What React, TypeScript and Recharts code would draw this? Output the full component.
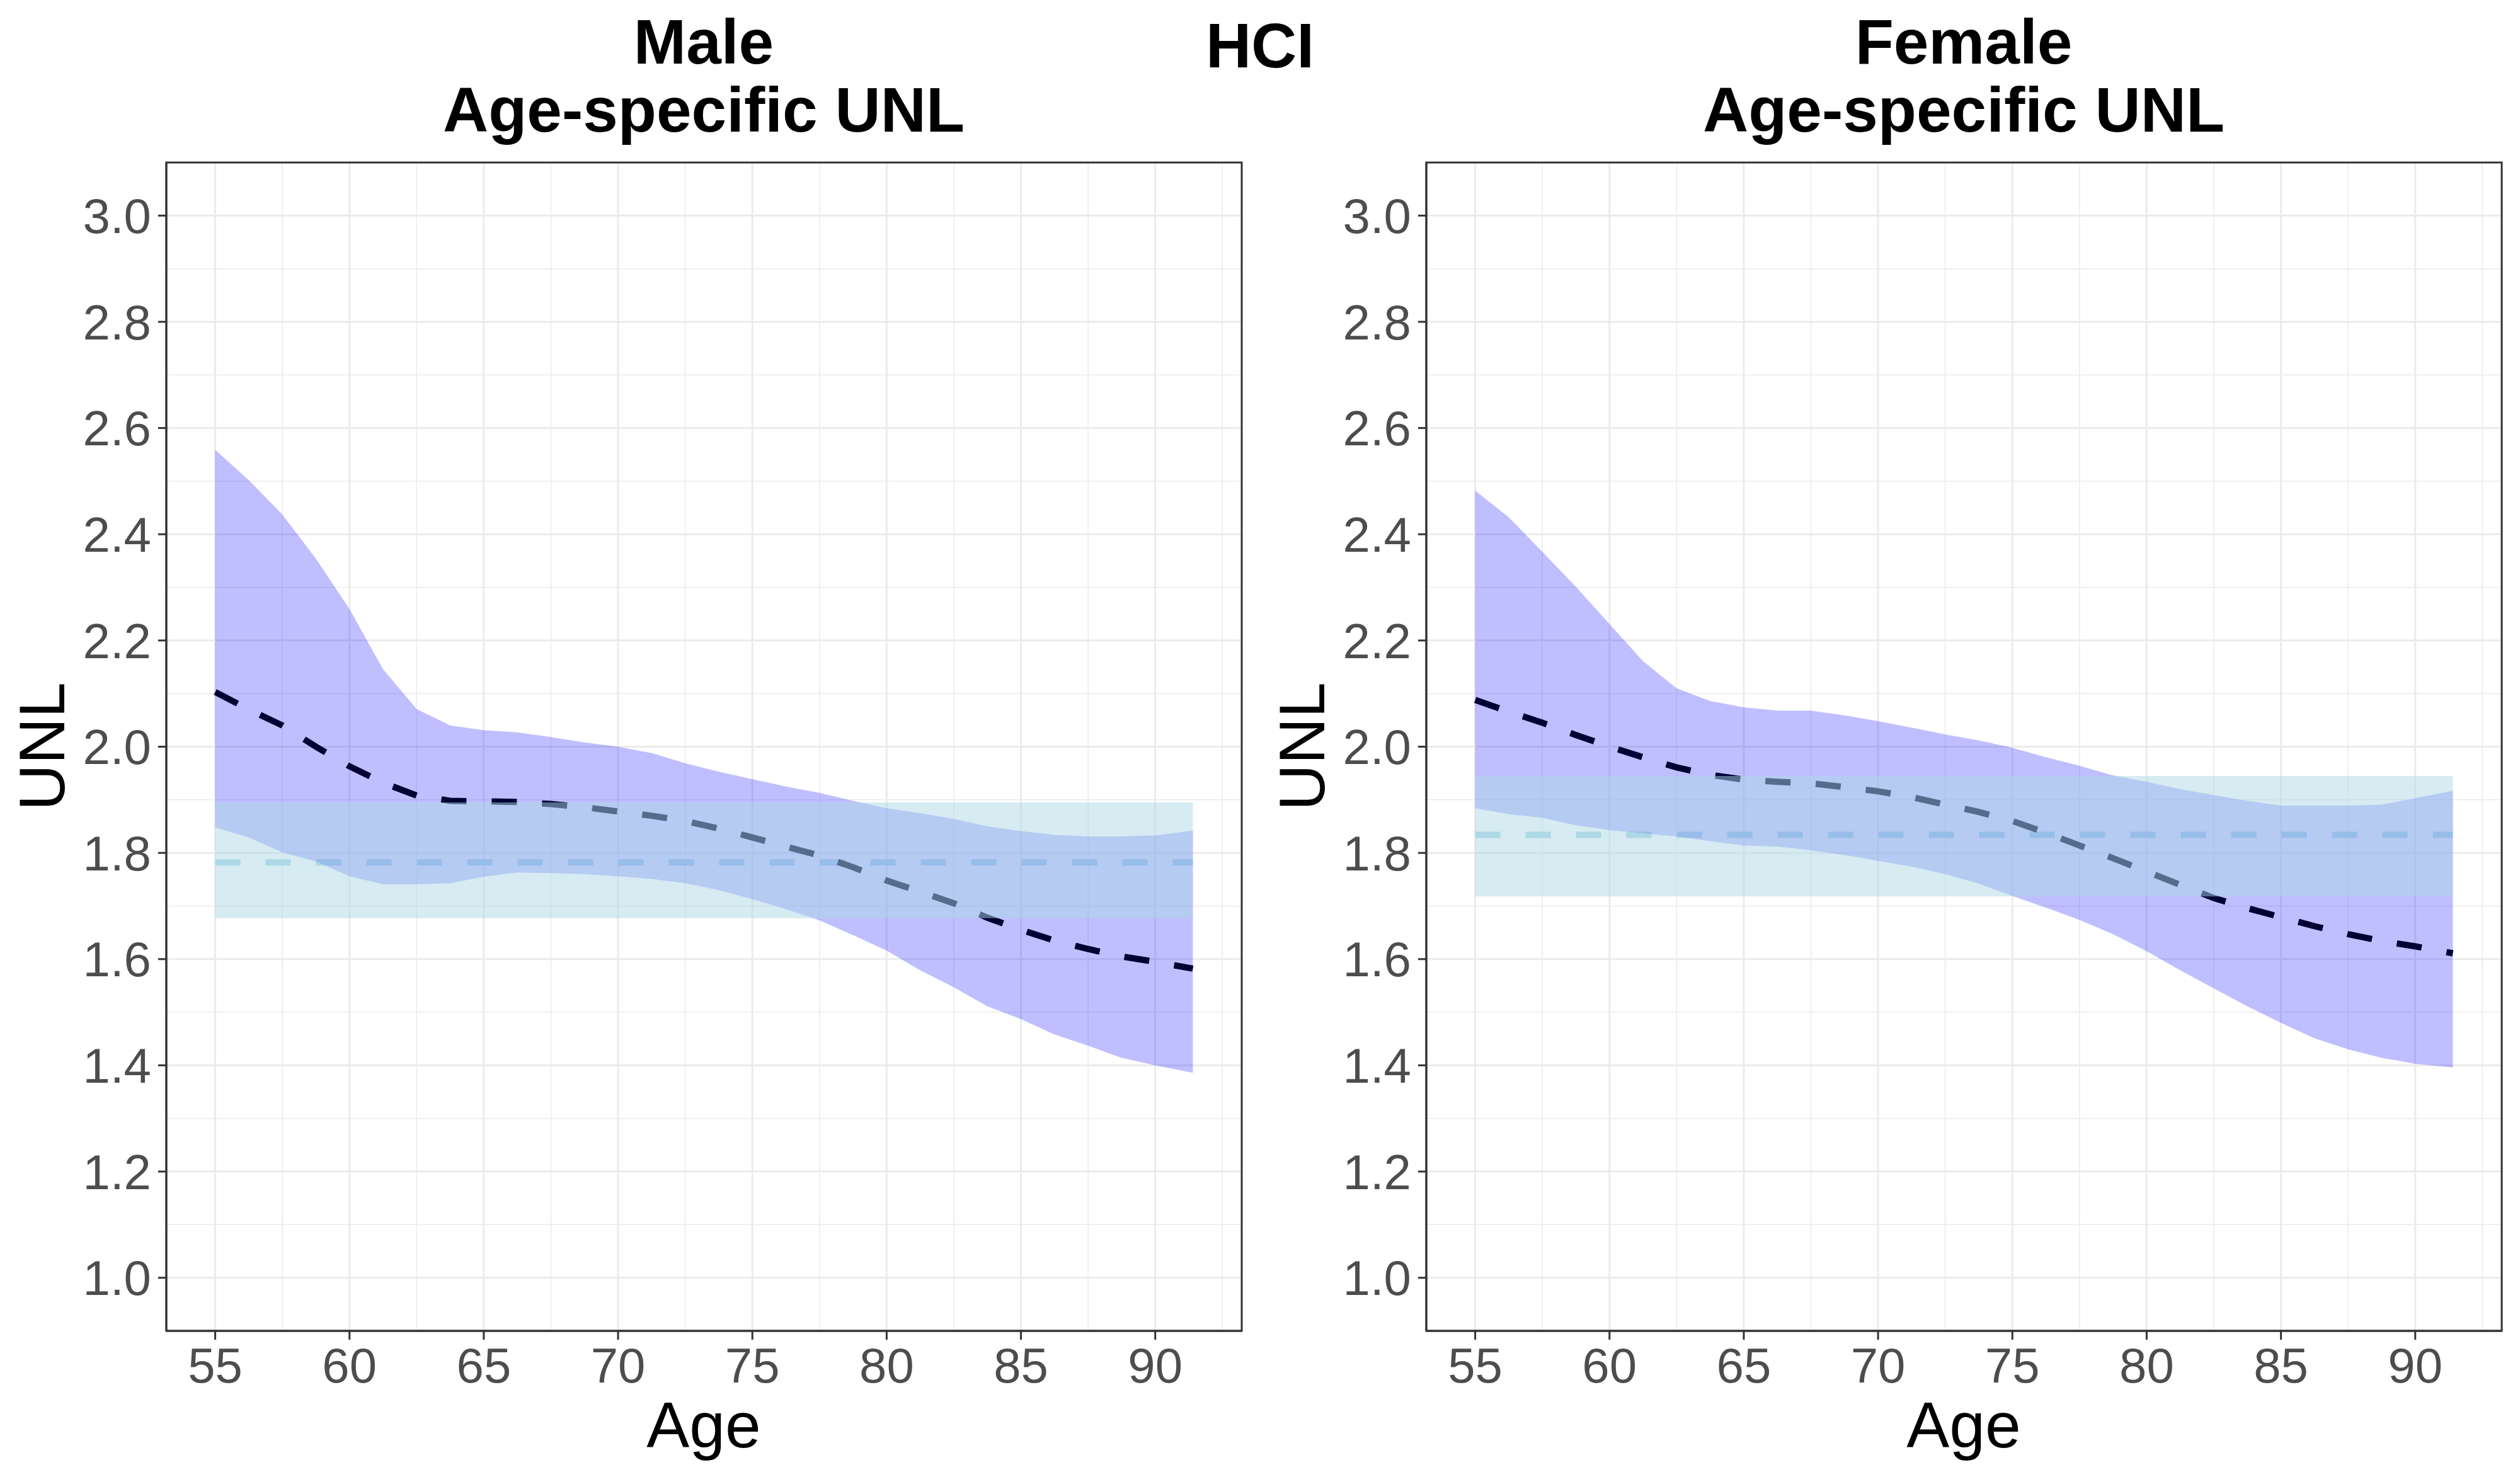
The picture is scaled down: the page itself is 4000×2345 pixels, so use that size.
import React from "react"
import { Area, CartesianGrid, ComposedChart, Line, ReferenceArea, XAxis, YAxis } from "recharts"

const ages = [
  55, 56.25, 57.5, 58.75, 60, 61.25, 62.5, 63.75, 65, 66.25, 67.5, 68.75, 70, 71.25, 72.5, 73.75, 75, 76.25, 77.5,
  78.75, 80, 81.25, 82.5, 83.75, 85, 86.25, 87.5, 88.75, 90, 91.4,
]

const maleMid = [
  2.103, 2.07, 2.04, 2.0, 1.963, 1.932, 1.908, 1.898, 1.897, 1.896, 1.892, 1.886, 1.878, 1.87, 1.86, 1.846, 1.829, 1.812,
  1.795, 1.773, 1.748, 1.727, 1.705, 1.678, 1.655, 1.635, 1.619, 1.605, 1.595, 1.582,
]
const maleHigh = [
  2.559, 2.502, 2.437, 2.354, 2.259, 2.146, 2.071, 2.04, 2.031, 2.027, 2.018, 2.008, 2.0, 1.988, 1.969, 1.953, 1.939,
  1.925, 1.913, 1.898, 1.884, 1.875, 1.864, 1.85, 1.841, 1.834, 1.831, 1.831, 1.833, 1.842,
]
const maleLow = [
  1.848, 1.829, 1.801, 1.784, 1.756, 1.741, 1.741, 1.743, 1.755, 1.763, 1.762, 1.76, 1.756, 1.751, 1.743, 1.73, 1.713,
  1.694, 1.673, 1.645, 1.616, 1.579, 1.547, 1.511, 1.487, 1.458, 1.437, 1.414, 1.4, 1.386,
]
const maleRefBand = [1.677, 1.895]
const maleRefMid = 1.782

const femaleMid = [
  2.088, 2.066, 2.045, 2.022, 2.0, 1.98, 1.961, 1.947, 1.938, 1.934, 1.931, 1.924, 1.916, 1.905, 1.891, 1.877, 1.86,
  1.838, 1.814, 1.79, 1.765, 1.74, 1.715, 1.696, 1.679, 1.662, 1.647, 1.634, 1.624, 1.611,
]
const femaleHigh = [
  2.482, 2.432, 2.367, 2.301, 2.231, 2.161, 2.11, 2.086, 2.074, 2.068, 2.068, 2.059, 2.048, 2.036, 2.023, 2.012, 1.998,
  1.98, 1.964, 1.946, 1.934, 1.92, 1.909, 1.898, 1.889, 1.889, 1.889, 1.891, 1.903, 1.917,
]
const femaleLow = [
  1.884, 1.873, 1.866, 1.852, 1.843, 1.837, 1.831, 1.822, 1.814, 1.812, 1.805, 1.796, 1.785, 1.774, 1.76, 1.742, 1.719,
  1.697, 1.674, 1.647, 1.615, 1.579, 1.545, 1.511, 1.48, 1.451, 1.43, 1.414, 1.403, 1.396,
]
const femaleRefBand = [1.718, 1.945]
const femaleRefMid = 1.834

const xTicks = [55, 60, 65, 70, 75, 80, 85, 90]
const xMinor = [57.5, 62.5, 67.5, 72.5, 77.5, 82.5, 87.5, 92.5]
const yTicks = [1.0, 1.2, 1.4, 1.6, 1.8, 2.0, 2.2, 2.4, 2.6, 2.8, 3.0]
const yMinor = [1.1, 1.3, 1.5, 1.7, 1.9, 2.1, 2.3, 2.5, 2.7, 2.9]
const yLimits = [1, 3]

const FONT = "'Liberation Sans', Arial, sans-serif"

// ggplot-style 5% expansion
const expand = (lo: number, hi: number) => {
  const pad = (hi - lo) * 0.05
  return [lo - pad, hi + pad]
}
const xDomain = expand(Math.min(...ages), Math.max(...ages))
const yDomain = expand(yLimits[0], yLimits[1])

function buildRows(mid: number[], low: number[], high: number[], band: number[], ref: number) {
  return ages.map((age, i) => ({
    age,
    mid: mid[i],
    ribbon: [low[i], high[i]],
    band: [band[0], band[1]],
    ref,
  }))
}

function Panel({ data, left }: { data: ReturnType<typeof buildRows>; left: number }) {
  const tickStyle = { fontSize: 78, fill: "#4d4d4d", fontFamily: FONT }
  return (
    <div style={{ position: "absolute", left, top: 0 }}>
      <ComposedChart width={2000} height={2345} data={data} margin={{ top: 258, right: 29, bottom: 132, left: 114 }}>
        <CartesianGrid
          stroke="#ebebeb"
          strokeWidth={1.5}
          horizontalValues={yMinor}
          verticalValues={xMinor}
        />
        <CartesianGrid stroke="#ebebeb" strokeWidth={3} horizontalValues={yTicks} verticalValues={xTicks} />
        <XAxis
          dataKey="age"
          type="number"
          domain={xDomain}
          ticks={xTicks}
          allowDataOverflow
          height={100}
          tick={tickStyle}
          tickSize={14}
          tickMargin={13}
          axisLine={{ stroke: "#333333", strokeWidth: 3 }}
          tickLine={{ stroke: "#333333", strokeWidth: 3 }}
        />
        <YAxis
          type="number"
          domain={yDomain}
          ticks={yTicks}
          allowDataOverflow
          width={150}
          tick={tickStyle}
          tickSize={13}
          tickMargin={11}
          tickFormatter={(v: number) => v.toFixed(1)}
          axisLine={{ stroke: "#333333", strokeWidth: 3 }}
          tickLine={{ stroke: "#333333", strokeWidth: 3 }}
        />
        <Line
          dataKey="ref"
          type="linear"
          stroke="#add8e6"
          strokeWidth={10}
          strokeDasharray="40 40"
          dot={false}
          activeDot={false}
          isAnimationActive={false}
          zIndex={50}
        />
        <Area
          dataKey="ribbon"
          type="linear"
          fill="#0000ff"
          fillOpacity={0.25}
          stroke="none"
          isAnimationActive={false}
          activeDot={false}
          zIndex={100}
        />
        <Line
          dataKey="mid"
          type="linear"
          stroke="#000033"
          strokeWidth={10}
          strokeDasharray="40 40"
          dot={false}
          activeDot={false}
          isAnimationActive={false}
          zIndex={400}
        />
        <Area
          dataKey="band"
          type="linear"
          fill="#add8e6"
          fillOpacity={0.5}
          stroke="none"
          isAnimationActive={false}
          activeDot={false}
          zIndex={450}
        />
        <ReferenceArea
          x1={xDomain[0]}
          x2={xDomain[1]}
          y1={yDomain[0]}
          y2={yDomain[1]}
          fill="none"
          stroke="#333333"
          strokeWidth={3}
          ifOverflow="visible"
          zIndex={600}
        />
      </ComposedChart>
    </div>
  )
}

const textBase: React.CSSProperties = {
  position: "absolute",
  fontFamily: FONT,
  color: "#000",
  whiteSpace: "nowrap",
  textAlign: "center",
}

function PanelTitle({ lines, center }: { lines: string[]; center: number }) {
  return (
    <div
      style={{
        ...textBase,
        left: center - 600,
        width: 1200,
        top: 12,
        fontSize: 100,
        lineHeight: "108px",
        fontWeight: "bold",
      }}
    >
      {lines.map((l) => (
        <div key={l}>{l}</div>
      ))}
    </div>
  )
}

function AxisTitles({ offset }: { offset: number }) {
  return (
    <>
      <div style={{ ...textBase, left: offset + 1117 - 300, width: 600, top: 2212, fontSize: 102, lineHeight: "102px" }}>
        Age
      </div>
      <div
        style={{
          ...textBase,
          left: offset + 67 - 300,
          width: 600,
          top: 1185 - 51,
          fontSize: 102,
          lineHeight: "102px",
          transform: "rotate(-90deg)",
          transformOrigin: "50% 50%",
        }}
      >
        UNL
      </div>
    </>
  )
}

export default function App() {
  const male = buildRows(maleMid, maleLow, maleHigh, maleRefBand, maleRefMid)
  const female = buildRows(femaleMid, femaleLow, femaleHigh, femaleRefBand, femaleRefMid)
  return (
    <div style={{ position: "absolute", left: 0, top: 0, width: 4000, height: 2345, background: "#fff", overflow: "hidden" }}>
      <Panel data={male} left={0} />
      <Panel data={female} left={2000} />
      <PanelTitle lines={["Male", "Age-specific UNL"]} center={1117} />
      <PanelTitle lines={["Female", "Age-specific UNL"]} center={3117} />
      <div
        style={{ ...textBase, left: 1700, width: 600, top: 18, fontSize: 100, lineHeight: "108px", fontWeight: "bold" }}
      >
        HCI
      </div>
      <AxisTitles offset={0} />
      <AxisTitles offset={2000} />
    </div>
  )
}
